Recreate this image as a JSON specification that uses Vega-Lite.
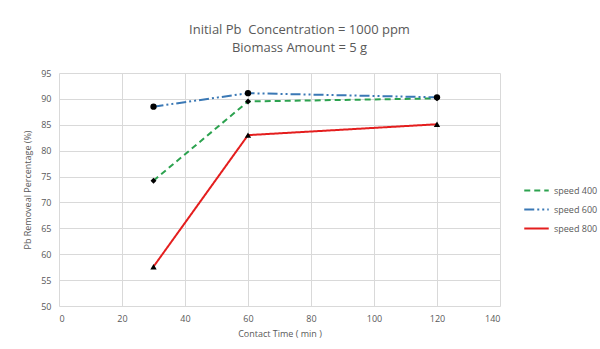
{
  "$schema": "https://vega.github.io/schema/vega-lite/v6.json",
  "width": 441,
  "height": 233,
  "autosize": {"type": "none"},
  "padding": {"left": 59, "top": 73, "right": 100, "bottom": 43},
  "background": "white",
  "title": {
    "text": ["Initial Pb\u00a0 Concentration = 1000 ppm", "Biomass Amount = 5 g"],
    "font": "Open Sans",
    "fontSize": 13,
    "fontWeight": "normal",
    "color": "#595959",
    "anchor": "middle",
    "dx": 20,
    "offset": 14,
    "lineHeight": 18
  },
  "data": {
    "values": [
      {"time": 30, "pct": 74.2, "series": "speed 400"},
      {"time": 60, "pct": 89.5, "series": "speed 400"},
      {"time": 120, "pct": 90.1, "series": "speed 400"},
      {"time": 30, "pct": 88.5, "series": "speed 600"},
      {"time": 60, "pct": 91.1, "series": "speed 600"},
      {"time": 120, "pct": 90.3, "series": "speed 600"},
      {"time": 30, "pct": 57.6, "series": "speed 800"},
      {"time": 60, "pct": 83.0, "series": "speed 800"},
      {"time": 120, "pct": 85.1, "series": "speed 800"}
    ]
  },
  "encoding": {
    "x": {
      "field": "time", "type": "quantitative",
      "scale": {"domain": [0, 140], "nice": false},
      "axis": {"values": [0, 20, 40, 60, 80, 100, 120, 140], "title": "Contact Time ( min )"}
    },
    "y": {
      "field": "pct", "type": "quantitative",
      "scale": {"domain": [50, 95], "nice": false, "zero": false},
      "axis": {"values": [50, 55, 60, 65, 70, 75, 80, 85, 90, 95], "title": "Pb Removeal Percentage (%)"}
    }
  },
  "layer": [
    {
      "mark": {"type": "line", "strokeWidth": 2},
      "encoding": {
        "color": {
          "field": "series", "type": "nominal",
          "scale": {"domain": ["speed 400", "speed 600", "speed 800"], "range": ["#2ca24f", "#3a78b5", "#e41e1e"]},
          "legend": {"title": null}
        },
        "strokeDash": {
          "field": "series", "type": "nominal",
          "scale": {"domain": ["speed 400", "speed 600", "speed 800"], "range": [[6, 4], [10, 3, 2, 3, 2, 3], [1, 0]]},
          "legend": {"title": null}
        }
      }
    },
    {
      "transform": [{"filter": "datum.series === 'speed 400'"}],
      "mark": {"type": "point", "filled": true, "color": "black", "opacity": 1, "size": 35, "shape": "diamond"}
    },
    {
      "transform": [{"filter": "datum.series === 'speed 600'"}],
      "mark": {"type": "point", "filled": true, "color": "black", "opacity": 1, "size": 40, "shape": "circle"}
    },
    {
      "transform": [{"filter": "datum.series === 'speed 800'"}],
      "mark": {"type": "point", "filled": true, "color": "black", "opacity": 1, "size": 40, "shape": "triangle-up"}
    }
  ],
  "config": {
    "font": "Open Sans",
    "view": {"stroke": null},
    "axis": {
      "domain": false,
      "ticks": false,
      "grid": true,
      "gridColor": "#d9d9d9",
      "gridWidth": 1,
      "labelColor": "#595959",
      "labelFontSize": 9,
      "labelFont": "Open Sans",
      "titleColor": "#595959",
      "titleFontSize": 9,
      "titleFontWeight": "normal",
      "titleFont": "Open Sans",
      "labelPadding": 8
    },
    "axisX": {"titlePadding": 6},
    "axisY": {"titlePadding": 8},
    "legend": {
      "orient": "none",
      "legendX": 464,
      "legendY": 104,
      "symbolType": "stroke",
      "symbolSize": 600,
      "symbolStrokeWidth": 2,
      "labelColor": "#595959",
      "labelFontSize": 9,
      "labelFont": "Open Sans",
      "rowPadding": -5
    }
  }
}
